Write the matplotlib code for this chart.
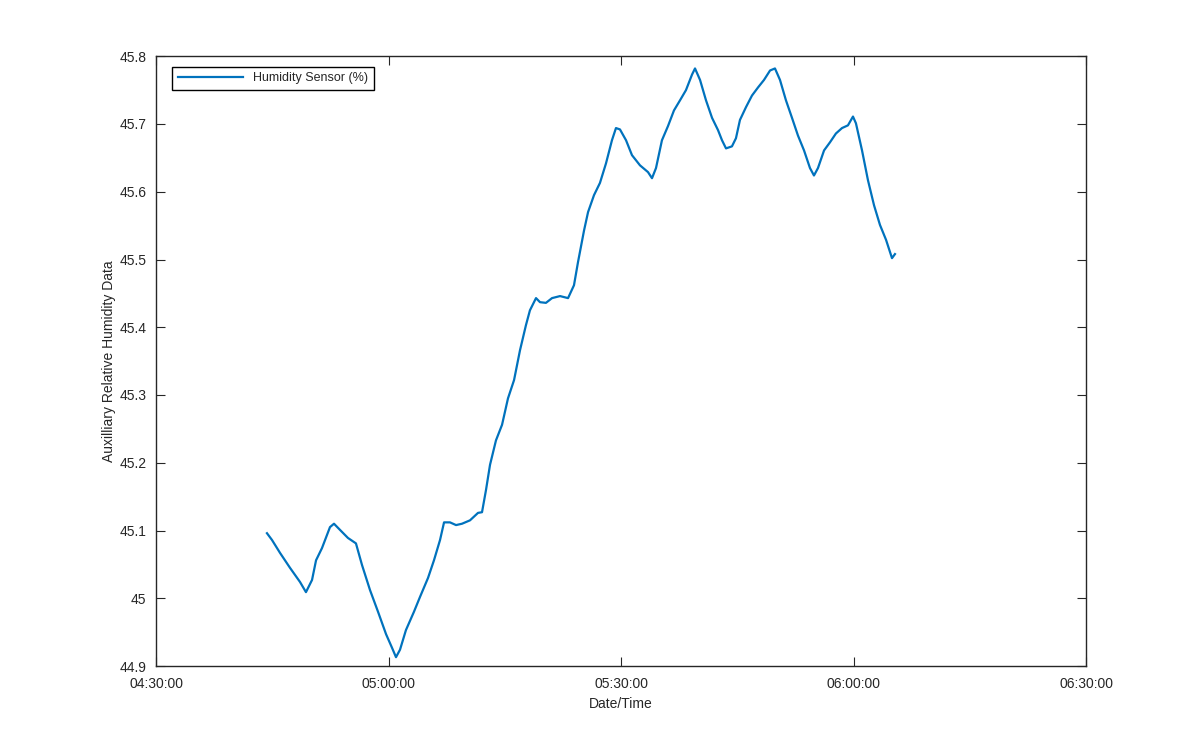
import numpy as np
import pandas as pd
import matplotlib
matplotlib.use('Agg')
import matplotlib.pyplot as plt
import matplotlib.dates as mdates

### Readings taken off the chart (time of day, humidity %)
times = ['04:44:19', '04:44:58', '04:46:00', '04:47:17', '04:48:35', '04:49:21',
         '04:50:08', '04:50:39', '04:51:25', '04:52:27', '04:52:58', '04:53:44',
         '04:54:46', '04:55:48', '04:56:35', '04:57:37', '04:58:39', '04:59:41',
         '05:00:27', '05:00:58', '05:01:29', '05:02:15', '05:03:17', '05:04:04',
         '05:05:06', '05:05:52', '05:06:39', '05:07:10', '05:07:56', '05:08:43',
         '05:09:29', '05:10:31', '05:11:33', '05:12:04', '05:12:35', '05:13:06',
         '05:13:52', '05:14:39', '05:15:25', '05:16:12', '05:16:58', '05:17:44',
         '05:18:15', '05:19:02', '05:19:33', '05:20:19', '05:21:06', '05:22:08',
         '05:23:10', '05:23:56', '05:24:27', '05:25:14', '05:25:45', '05:26:31',
         '05:27:17', '05:28:04', '05:28:50', '05:29:21', '05:29:52', '05:30:39',
         '05:31:25', '05:32:27', '05:33:29', '05:34:00', '05:34:31', '05:35:17',
         '05:36:04', '05:36:50', '05:37:37', '05:38:23', '05:39:10', '05:39:33',
         '05:40:12', '05:40:58', '05:41:45', '05:42:31', '05:43:02', '05:43:33',
         '05:44:19', '05:44:50', '05:45:21', '05:46:08', '05:46:54', '05:47:41',
         '05:48:27', '05:49:14', '05:49:52', '05:50:31', '05:51:17', '05:52:04',
         '05:52:50', '05:53:37', '05:54:23', '05:54:54', '05:55:25', '05:56:12',
         '05:56:58', '05:57:44', '05:58:31', '05:59:17', '05:59:56', '06:00:19',
         '06:01:06', '06:01:52', '06:02:39', '06:03:25', '06:04:12', '06:04:58',
         '06:05:21']
humidity = [45.096, 45.086, 45.067, 45.045, 45.024, 45.009,
            45.027, 45.056, 45.074, 45.105, 45.110, 45.101,
            45.089, 45.081, 45.049, 45.012, 44.980, 44.947,
            44.927, 44.913, 44.924, 44.953, 44.980, 45.002,
            45.030, 45.056, 45.086, 45.112, 45.112, 45.108,
            45.110, 45.115, 45.126, 45.127, 45.160, 45.197,
            45.233, 45.256, 45.295, 45.322, 45.366, 45.403,
            45.425, 45.443, 45.437, 45.436, 45.443, 45.446,
            45.443, 45.462, 45.496, 45.543, 45.570, 45.595,
            45.613, 45.642, 45.676, 45.694, 45.692, 45.676,
            45.654, 45.639, 45.629, 45.620, 45.635, 45.676,
            45.697, 45.720, 45.735, 45.750, 45.773, 45.782,
            45.765, 45.735, 45.709, 45.691, 45.676, 45.664,
            45.667, 45.679, 45.706, 45.725, 45.742, 45.754,
            45.765, 45.779, 45.782, 45.765, 45.735, 45.709,
            45.683, 45.661, 45.635, 45.624, 45.635, 45.661,
            45.673, 45.686, 45.694, 45.698, 45.711, 45.701,
            45.661, 45.617, 45.580, 45.551, 45.529, 45.502,
            45.508]

xticks = ['04:30:00', '05:00:00', '05:30:00', '06:00:00', '06:30:00']
yticks = [44.9, 45.0, 45.1, 45.2, 45.3, 45.4, 45.5, 45.6, 45.7, 45.8]

day = '2016-01-01 '
t = pd.to_datetime([day + s for s in times])
tk = pd.to_datetime([day + s for s in xticks])

plt.rcParams['font.family'] = ['Liberation Sans', 'DejaVu Sans']
txt = '#262626'

fig = plt.figure(figsize=(12, 7.5), dpi=100)
ax = fig.add_axes([0.13, 0.112, 0.775, 0.813])
ax.plot(t, humidity, color='#0072BD', lw=1.6, label='Humidity Sensor (%)')

ax.set_xlim(tk[0], tk[-1])
ax.set_ylim(44.9, 45.8)
ax.set_xticks(tk)
ax.xaxis.set_major_formatter(mdates.DateFormatter('%H:%M:%S'))
ax.set_yticks(yticks)
ax.set_yticklabels(['%g' % v for v in yticks])

ax.tick_params(direction='in', length=6.5, width=0.8, top=True, right=True,
               labelsize=10, colors=txt)
ax.tick_params(axis='x', pad=8)
ax.tick_params(axis='y', pad=7)
for s in ax.spines.values():
    s.set_linewidth(1.0)
    s.set_color(txt)

ax.set_xlabel('Date/Time', fontsize=10, color=txt, labelpad=4)
ax.set_ylabel('Auxilliary Relative Humidity Data', fontsize=10, color=txt, labelpad=2)

leg = ax.legend(loc='upper left', fontsize=9, handlelength=5.2, fancybox=False,
                edgecolor='black', framealpha=1, borderpad=0.45,
                bbox_to_anchor=(0.011, 0.993))
leg.get_frame().set_linewidth(1.0)
for tx in leg.get_texts():
    tx.set_color(txt)

plt.savefig('out.png', dpi=100)
